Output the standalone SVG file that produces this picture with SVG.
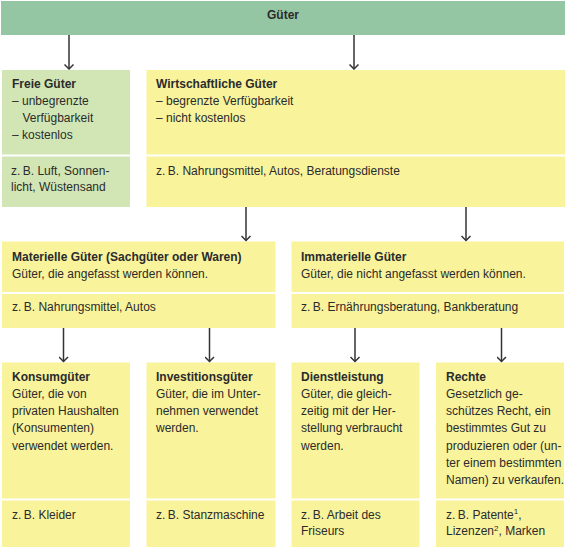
<svg xmlns="http://www.w3.org/2000/svg" width="566" height="547" viewBox="0 0 566 547">
<defs>
<style>
.t{font-family:"Liberation Sans",Arial,sans-serif;font-size:12px;fill:#2b2b2b}
.b{font-weight:bold}
.g{fill:#d2e6b5}
.y{fill:#f9f39c}
.top{fill:#95c6a4}
.c{stroke:#333;stroke-width:1.5;fill:none}
.sup{font-size:8px}
</style>
<marker id="ah" viewBox="0 0 10 10" refX="9" refY="5" markerWidth="10" markerHeight="10" markerUnits="userSpaceOnUse" orient="auto">
<path d="M4.5,0.5 L9,5 L4.5,9.5" fill="none" stroke="#333" stroke-width="1.5"/>
</marker>
</defs>
<rect width="566" height="547" fill="#fff"/>
<g id="gueter">
<rect class="top" x="1" y="1" width="564" height="34"/>
<text class="t b" x="283" y="18.5" text-anchor="middle">Güter</text>
</g>
<g id="freie">
<rect class="g" x="2" y="70" width="128" height="84.5"/>
<rect class="g" x="2" y="156.5" width="128" height="50.5"/>
<text class="t b" x="12" y="87.5">Freie Güter</text>
<text class="t" x="12" y="104.5">– unbegrenzte</text>
<text class="t" x="22.5" y="121.5">Verfügbarkeit</text>
<text class="t" x="12" y="139">– kostenlos</text>
<text class="t" x="11" y="174.5">z.&#8201;B. Luft, Sonnen-</text>
<text class="t" x="11" y="190.5">licht, Wüstensand</text>
</g>
<g id="wirtschaftliche">
<rect class="y" x="146.5" y="70" width="418.5" height="84.5"/>
<rect class="y" x="146.5" y="156.5" width="418.5" height="50.5"/>
<text class="t b" x="156" y="87.5">Wirtschaftliche Güter</text>
<text class="t" x="156" y="104.5">– begrenzte Verfügbarkeit</text>
<text class="t" x="156" y="121.5">– nicht kostenlos</text>
<text class="t" x="156" y="174.5">z.&#8201;B. Nahrungsmittel, Autos, Beratungsdienste</text>
</g>
<g id="materielle">
<rect class="y" x="2" y="241.5" width="273.5" height="50.5"/>
<rect class="y" x="2" y="294" width="273.5" height="34"/>
<text class="t b" x="12" y="261">Materielle Güter (Sachgüter oder Waren)</text>
<text class="t" x="12" y="278">Güter, die angefasst werden können.</text>
<text class="t" x="12" y="311">z.&#8201;B. Nahrungsmittel, Autos</text>
</g>
<g id="immaterielle">
<rect class="y" x="291.5" y="241.5" width="272.5" height="50.5"/>
<rect class="y" x="291.5" y="294" width="272.5" height="34"/>
<text class="t b" x="301" y="261">Immaterielle Güter</text>
<text class="t" x="301" y="278">Güter, die nicht angefasst werden können.</text>
<text class="t" x="301" y="311">z.&#8201;B. Ernährungsberatung, Bankberatung</text>
</g>
<g id="konsum">
<rect class="y" x="2" y="362.5" width="128" height="136"/>
<rect class="y" x="2" y="500.5" width="128" height="46.5"/>
<text class="t b" x="12" y="381">Konsumgüter</text>
<text class="t" x="12" y="398">Güter, die von</text>
<text class="t" x="12" y="415">privaten Haushalten</text>
<text class="t" x="12" y="432">(Konsumenten)</text>
<text class="t" x="12" y="449.5">verwendet werden.</text>
<text class="t" x="12" y="518.5">z.&#8201;B. Kleider</text>
</g>
<g id="investition">
<rect class="y" x="146.5" y="362.5" width="129" height="136"/>
<rect class="y" x="146.5" y="500.5" width="129" height="46.5"/>
<text class="t b" x="156" y="381">Investitionsgüter</text>
<text class="t" x="156" y="398">Güter, die im Unter-</text>
<text class="t" x="156" y="415">nehmen verwendet</text>
<text class="t" x="156" y="432">werden.</text>
<text class="t" x="156" y="518.5">z.&#8201;B. Stanzmaschine</text>
</g>
<g id="dienstleistung">
<rect class="y" x="291.5" y="362.5" width="128" height="136"/>
<rect class="y" x="291.5" y="500.5" width="128" height="46.5"/>
<text class="t b" x="301" y="381">Dienstleistung</text>
<text class="t" x="301" y="398">Güter, die gleich-</text>
<text class="t" x="301" y="415">zeitig mit der Her-</text>
<text class="t" x="301" y="432">stellung verbraucht</text>
<text class="t" x="301" y="449.5">werden.</text>
<text class="t" x="301" y="518.5">z.&#8201;B. Arbeit des</text>
<text class="t" x="301" y="535">Friseurs</text>
</g>
<g id="rechte">
<rect class="y" x="436" y="362.5" width="128" height="136"/>
<rect class="y" x="436" y="500.5" width="128" height="46.5"/>
<text class="t b" x="446" y="381">Rechte</text>
<text class="t" x="446" y="398">Gesetzlich ge-</text>
<text class="t" x="446" y="415">schützes Recht, ein</text>
<text class="t" x="446" y="432">bestimmtes Gut zu</text>
<text class="t" x="446" y="449.5">produzieren oder (un-</text>
<text class="t" x="446" y="467">ter einem bestimmten</text>
<text class="t" x="446" y="483.5">Namen) zu verkaufen.</text>
<text class="t" x="446" y="518.5">z.&#8201;B. Patente<tspan class="sup" dy="-4.5">1</tspan><tspan dy="4.5">,</tspan></text>
<text class="t" x="446" y="535">Lizenzen<tspan class="sup" dy="-4.5">2</tspan><tspan dy="4.5">, Marken</tspan></text>
</g>
<g id="connectors">
<line class="c" x1="69" y1="35" x2="69" y2="69" marker-end="url(#ah)"/>
<line class="c" x1="354" y1="35" x2="354" y2="69" marker-end="url(#ah)"/>
<line class="c" x1="246" y1="207" x2="246" y2="240.5" marker-end="url(#ah)"/>
<line class="c" x1="466" y1="207" x2="466" y2="240.5" marker-end="url(#ah)"/>
<line class="c" x1="63.5" y1="328" x2="63.5" y2="361.5" marker-end="url(#ah)"/>
<line class="c" x1="209.5" y1="328" x2="209.5" y2="361.5" marker-end="url(#ah)"/>
<line class="c" x1="355" y1="328" x2="355" y2="361.5" marker-end="url(#ah)"/>
<line class="c" x1="501.5" y1="328" x2="501.5" y2="361.5" marker-end="url(#ah)"/>
</g>
</svg>
